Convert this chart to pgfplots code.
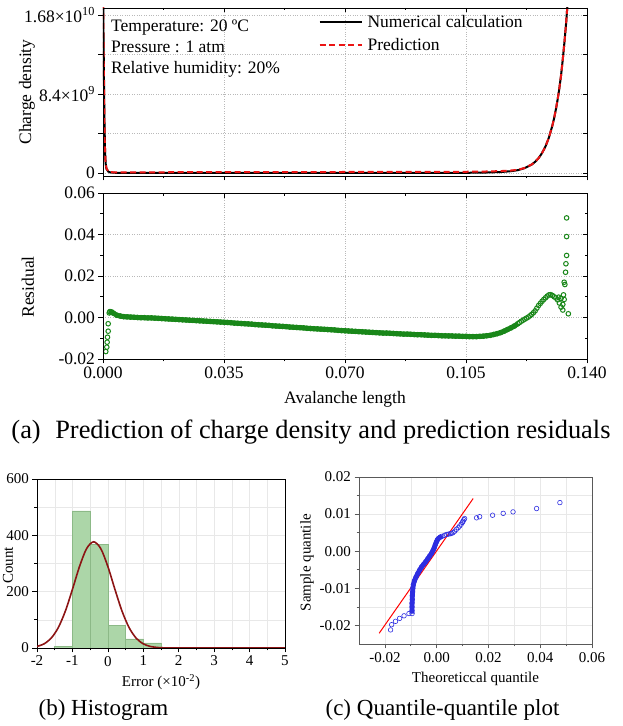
\documentclass[border=0pt]{standalone}
\usepackage{pgfplots}
\usepackage{pgfplotstable}
\pgfplotsset{compat=1.18}
\usepackage{fontspec}
\setmainfont{Liberation Serif}
\definecolor{resgreen}{RGB}{25,135,25}
\definecolor{qqblue}{RGB}{45,45,225}
\definecolor{histfill}{RGB}{172,214,168}
\definecolor{histedge}{RGB}{140,185,135}
\definecolor{curvered}{RGB}{140,20,20}
\definecolor{predred}{RGB}{235,20,20}
\newcommand{\fA}{\fontsize{17.5}{20}\selectfont}
\newcommand{\fB}{\fontsize{15}{18}\selectfont}
\newcommand{\fC}{\fontsize{15}{18}\selectfont}
\newcommand{\fCap}{\fontsize{26.4}{28}\selectfont}
\newcommand{\fCapb}{\fontsize{23}{26}\selectfont}

\pgfplotsset{
  base/.style={scale only axis, anchor=south west,
    /pgf/number format/assume math mode=true,
    axis line style={line width=0.8pt},
    major tick length=4.5pt, minor tick length=2.5pt,
    every tick/.style={black, line width=0.7pt}},
  mainleft/.style={xtick pos=left, ytick pos=left, tick align=outside,
    grid=major, grid style={gray!55, dotted, line width=0.6pt},
    tick label style={font=\fA}, label style={font=\fA}},
  mirror/.style={xtick pos=right, ytick pos=right, tick align=inside,
    xticklabels={}, yticklabels={}},
}

\pgfplotstableread[row sep=\\]{
x y\\
0 2.0e10\\
0.0002 1.3e10\\
0.0004 6.0e9\\
0.0006 2.2e9\\
0.0008 9.0e8\\
0.001 4.5e8\\
0.0015 1.6e8\\
0.002 7.0e7\\
0.003 3.0e7\\
0.005 1.0e7\\
0.01 5e6\\
0.02 3e6\\
0.04 2e6\\
0.06 2e6\\
0.08 3e6\\
0.09 5e6\\
0.1 1e7\\
0.105 2e7\\
0.11 4e7\\
0.115 1.0e8\\
0.118 1.9e8\\
0.12 3.0e8\\
0.122 5.2e8\\
0.124 8.9e8\\
0.125 1.19e9\\
0.126 1.58e9\\
0.127 2.12e9\\
0.128 2.83e9\\
0.129 3.78e9\\
0.13 5.06e9\\
0.1305 5.85e9\\
0.131 6.76e9\\
0.1315 7.8e9\\
0.132 9.0e9\\
0.1325 1.04e10\\
0.133 1.21e10\\
0.1335 1.40e10\\
0.134 1.61e10\\
0.1345 1.87e10\\
0.135 2.15e10\\
}\numcalc

\pgfplotstableread[row sep=\\]{
x y\\
0 2.0e10\\
0.0001 1.6e10\\
0.0003 8.5e9\\
0.0005 3.5e9\\
0.0007 1.3e9\\
0.001 4.8e8\\
0.0015 2.0e8\\
0.002 1.1e8\\
0.003 7.0e7\\
0.005 5.5e7\\
0.01 6e7\\
0.02 8e7\\
0.04 9e7\\
0.06 1.0e8\\
0.08 1.1e8\\
0.09 1.1e8\\
0.1 1.2e8\\
0.105 1.3e8\\
0.11 1.5e8\\
0.115 2.0e8\\
0.118 2.6e8\\
0.12 3.4e8\\
0.122 5.4e8\\
0.124 9.0e8\\
0.125 1.19e9\\
0.126 1.58e9\\
0.127 2.12e9\\
0.128 2.83e9\\
0.129 3.78e9\\
0.13 5.06e9\\
0.1305 5.85e9\\
0.131 6.76e9\\
0.1315 7.8e9\\
0.132 9.0e9\\
0.1325 1.04e10\\
0.133 1.21e10\\
0.1335 1.40e10\\
0.134 1.61e10\\
0.1345 1.87e10\\
0.135 2.15e10\\
}\predict

\pgfplotstableread[row sep=\\]{
x y\\
0.002 0.0028\\
0.003 0.0021\\
0.004 0.0011\\
0.005 0.0007\\
0.006 0.0004\\
0.007 0.0003\\
0.008 0.0002\\
0.009 0.0001\\
0.010 0.0000\\
0.011 -0.0001\\
0.012 -0.0001\\
0.013 -0.0002\\
0.014 -0.0002\\
0.015 -0.0003\\
0.016 -0.0004\\
0.017 -0.0005\\
0.018 -0.0006\\
0.019 -0.0007\\
0.020 -0.0008\\
0.021 -0.0009\\
0.022 -0.0010\\
0.023 -0.0011\\
0.024 -0.0012\\
0.025 -0.0013\\
0.026 -0.0014\\
0.027 -0.0015\\
0.028 -0.0016\\
0.029 -0.0017\\
0.030 -0.0018\\
0.031 -0.0019\\
0.032 -0.0020\\
0.033 -0.0021\\
0.034 -0.0022\\
0.035 -0.0023\\
0.036 -0.0024\\
0.037 -0.0025\\
0.038 -0.0027\\
0.039 -0.0028\\
0.040 -0.0029\\
0.041 -0.0030\\
0.042 -0.0031\\
0.043 -0.0032\\
0.044 -0.0034\\
0.045 -0.0035\\
0.046 -0.0036\\
0.047 -0.0037\\
0.048 -0.0038\\
0.049 -0.0040\\
0.050 -0.0041\\
0.051 -0.0042\\
0.052 -0.0043\\
0.053 -0.0044\\
0.054 -0.0046\\
0.055 -0.0047\\
0.056 -0.0048\\
0.057 -0.0049\\
0.058 -0.0050\\
0.059 -0.0052\\
0.060 -0.0053\\
0.061 -0.0054\\
0.062 -0.0055\\
0.063 -0.0056\\
0.064 -0.0057\\
0.065 -0.0058\\
0.066 -0.0059\\
0.067 -0.0060\\
0.068 -0.0062\\
0.069 -0.0063\\
0.070 -0.0064\\
0.071 -0.0065\\
0.072 -0.0066\\
0.073 -0.0067\\
0.074 -0.0068\\
0.075 -0.0069\\
0.076 -0.0070\\
0.077 -0.0071\\
0.078 -0.0072\\
0.079 -0.0073\\
0.080 -0.0074\\
0.081 -0.0075\\
0.082 -0.0075\\
0.083 -0.0076\\
0.084 -0.0077\\
0.085 -0.0078\\
0.086 -0.0079\\
0.087 -0.0080\\
0.088 -0.0080\\
0.089 -0.0081\\
0.090 -0.0082\\
0.091 -0.0083\\
0.092 -0.0083\\
0.093 -0.0084\\
0.094 -0.0085\\
0.095 -0.0086\\
0.096 -0.0086\\
0.097 -0.0087\\
0.098 -0.0088\\
0.099 -0.0088\\
0.100 -0.0089\\
0.101 -0.0089\\
0.102 -0.0090\\
0.103 -0.0090\\
0.104 -0.0091\\
0.105 -0.0091\\
0.106 -0.0092\\
0.107 -0.0092\\
0.108 -0.0092\\
0.109 -0.0091\\
0.110 -0.0090\\
0.111 -0.0088\\
0.112 -0.0086\\
0.113 -0.0082\\
0.114 -0.0078\\
0.115 -0.0073\\
0.116 -0.0066\\
0.117 -0.0058\\
0.118 -0.0050\\
0.119 -0.0041\\
0.120 -0.0030\\
}\resdense

\pgfplotstableread[row sep=\\]{
x y\\
-0.0095 -0.0168\\
-0.0095 -0.0160\\
-0.0095 -0.0150\\
-0.0095 -0.0140\\
-0.0094 -0.0130\\
-0.0094 -0.0120\\
-0.0093 -0.0110\\
-0.0092 -0.0100\\
-0.0090 -0.0090\\
-0.0086 -0.0080\\
-0.0080 -0.0070\\
-0.0073 -0.0060\\
-0.0065 -0.0050\\
-0.0058 -0.0042\\
-0.0050 -0.0035\\
-0.0042 -0.0028\\
-0.0034 -0.0020\\
-0.0027 -0.0013\\
-0.0020 -0.0006\\
-0.0014 0.0002\\
-0.0009 0.0010\\
-0.0005 0.0018\\
-0.0001 0.0025\\
0.0003 0.0031\\
0.0008 0.0035\\
0.0014 0.0038\\
0.0020 0.0040\\
}\qqdense

\begin{document}
\begin{tikzpicture}[x=1pt,y=1pt]
\useasboundingbox (0,0) rectangle (623,726);

% ---------- top panel: charge density ----------
\begin{axis}[base, mainleft, at={(103pt,550pt)}, width=484pt, height=168pt,
  xmin=0, xmax=0.14, ymin=-0.32e9, ymax=1.754e10,
  xtick={0,0.035,0.07,0.105,0.14}, xticklabels={}, minor x tick num=1,
  ytick={0,4.2e9,8.4e9,1.26e10,1.68e10},
  yticklabels={0,,8.4×10\textsuperscript{9},,1.68×10\textsuperscript{10}},
  scaled y ticks=false,
  ylabel={Charge density},
  ylabel style={at={(axis description cs:-0.157,0.5)}, anchor=center},
  legend style={at={(axis description cs:0.443,0.975)}, anchor=north west,
    draw=none, fill=none, font=\fA, inner sep=1pt, row sep=5pt,
    /tikz/every odd column/.append style={column sep=3pt}},
  legend cell align=left,
  legend image code/.code={\draw[#1] (0pt,0pt) -- (42pt,0pt);},
  clip=true]
\addplot[black, line width=2pt] table[x=x,y=y] {\numcalc};
\addlegendentry{Numerical calculation}
\addplot[predred, line width=2pt, dash pattern=on 6pt off 3.5pt] table[x=x,y=y] {\predict};
\addlegendentry{Prediction}
\node[anchor=north west, align=left, inner sep=0pt, font=\fontsize{17.5}{21.3}\selectfont]
  at (axis description cs:0.0165,0.932)
  {Temperature: 20 ºC\\Pressure : 1 atm\\Relative humidity: 20\%};
\end{axis}
\begin{axis}[base, mirror, at={(103pt,550pt)}, width=484pt, height=168pt,
  xmin=0, xmax=0.14, ymin=-0.32e9, ymax=1.754e10,
  xtick={0,0.035,0.07,0.105,0.14}, minor x tick num=1,
  ytick={0,4.2e9,8.4e9,1.26e10,1.68e10}, scaled y ticks=false]
\addplot[draw=none] coordinates {(0.05,0)};
\end{axis}

% ---------- residual panel ----------
\begin{axis}[base, mainleft, at={(103pt,367pt)}, width=484pt, height=166pt,
  xmin=0, xmax=0.14, ymin=-0.02, ymax=0.06,
  xtick={0,0.035,0.07,0.105,0.14}, minor x tick num=1,
  ytick={-0.02,0,0.02,0.04,0.06}, minor y tick num=1,
  xticklabel style={/pgf/number format/.cd, fixed, zerofill, precision=3},
  yticklabel style={/pgf/number format/.cd, fixed, zerofill, precision=2},
  scaled x ticks=false, scaled y ticks=false,
  xlabel={Avalanche length}, ylabel={Residual},
  xlabel style={at={(axis description cs:0.5,-0.24)}, anchor=center},
  ylabel style={at={(axis description cs:-0.155,0.434)}, anchor=center}]
\addplot[resgreen, line width=5pt] table[x=x,y=y] {\resdense};
\addplot[resgreen, only marks, mark=o, mark size=2.3pt, mark options={line width=1pt}] table[x=x,y=y] {\resdense};
\addplot[resgreen, only marks, mark=o, mark size=2.3pt, mark options={line width=1pt}] coordinates {
(0.0008,-0.0164) (0.0011,-0.0143) (0.0012,-0.0119) (0.0013,-0.0095) (0.0015,-0.0066) (0.0015,-0.0030)
(0.0018,0.0022) (0.0020,0.0028) (0.0025,0.0027)
(0.1205,-0.0024) (0.1210,-0.0018) (0.1215,-0.0013) (0.1220,-0.0008) (0.1225,-0.0003)
(0.1230,0.0002) (0.1235,0.0008) (0.1240,0.0015) (0.1245,0.0023) (0.1250,0.0032)
(0.1255,0.0045) (0.1260,0.0058) (0.1265,0.0068) (0.1270,0.0078) (0.1275,0.0087)
(0.1280,0.0095) (0.1285,0.0103) (0.1290,0.0109) (0.1295,0.0110) (0.1300,0.0106)
(0.1305,0.0100) (0.1310,0.0094) (0.1315,0.0085) (0.1318,0.0098) (0.1320,0.0070)
(0.1325,0.0092) (0.1325,0.0050) (0.1330,0.0036) (0.1330,0.0063)
(0.1341,0.0480) (0.1341,0.0390) (0.1341,0.0299) (0.1339,0.0259) (0.1338,0.0218)
(0.1334,0.0170) (0.1336,0.0159) (0.1332,0.0109) (0.1334,0.0087) (0.1346,0.0018)
};
\end{axis}
\begin{axis}[base, mirror, at={(103pt,367pt)}, width=484pt, height=166pt,
  xmin=0, xmax=0.14, ymin=-0.02, ymax=0.06,
  xtick={0,0.035,0.07,0.105,0.14}, minor x tick num=1,
  ytick={-0.02,0,0.02,0.04,0.06}, minor y tick num=1,
  scaled x ticks=false, scaled y ticks=false]
\addplot[draw=none] coordinates {(0.05,0)};
\end{axis}

\node[font=\fCap] at (311,294) {(a)\hspace{0.55em}Prediction of charge density and prediction residuals};

% ---------- histogram ----------
\begin{axis}[base, at={(37pt,78pt)}, width=248pt, height=169pt,
  xmin=-2, xmax=5, ymin=0, ymax=600,
  xtick={-2,-1,0,1,2,3,4,5}, ytick={0,200,400,600},
  minor x tick num=1, minor y tick num=1,
  xtick pos=left, ytick pos=left, tick align=outside,
  grid=both, grid style={gray!18, line width=0.4pt},
  minor grid style={gray!18, line width=0.4pt},
  tick label style={font=\fB}, label style={font=\fC},
  xlabel={Error (×10\textsuperscript{-2})}, ylabel={Count},
  xlabel style={at={(axis description cs:0.5,-0.2)}, anchor=center},
  ylabel style={at={(axis description cs:-0.117,0.49)}, anchor=center}]
\addplot[ybar interval, fill=histfill, draw=histedge, line width=0.5pt] coordinates {
(-1.5,7) (-1,487) (-0.5,369) (0,79) (0.5,32) (1,18) (1.5,18)};
\addplot[curvered, line width=1.6pt, smooth] coordinates {
(-2,5.5) (-1.8,14.8) (-1.6,34.9) (-1.4,72.2) (-1.2,130.9) (-1.0,208) (-0.8,289.4)
(-0.6,352.9) (-0.4,377) (-0.2,352.9) (0,289.4) (0.2,208) (0.4,130.9) (0.6,72.2)
(0.8,34.9) (1.0,14.8) (1.2,5.5) (1.4,1.8) (1.6,0.5) (2,0) (3,0) (4,0) (5,0)};
\end{axis}
\node[font=\fCapb] at (103.5,16) {(b) Histogram};

% ---------- QQ plot ----------
\begin{axis}[base, at={(359pt,82pt)}, width=233pt, height=167pt,
  xmin=-0.03, xmax=0.06, ymin=-0.025, ymax=0.02,
  xtick={-0.02,0,0.02,0.04,0.06}, ytick={-0.02,-0.01,0,0.01,0.02},
  minor x tick num=1, minor y tick num=1,
  xtick pos=left, ytick pos=left, tick align=outside,
  axis line style={black!65, line width=0.8pt},
  every tick/.style={black!65, line width=0.7pt},
  grid=both, grid style={gray!18, line width=0.4pt},
  minor grid style={gray!18, line width=0.4pt},
  xticklabel style={/pgf/number format/.cd, fixed, zerofill, precision=2},
  yticklabel style={/pgf/number format/.cd, fixed, zerofill, precision=2},
  scaled x ticks=false, scaled y ticks=false,
  tick label style={font=\fC}, label style={font=\fC},
  xlabel={Theoreticcal quantile}, ylabel={Sample quantile},
  xlabel style={at={(axis description cs:0.5,-0.21)}, anchor=center},
  ylabel style={at={(axis description cs:-0.223,0.487)}, anchor=center}]
\addplot[red, line width=1pt] coordinates {(-0.0222,-0.0221) (0.0141,0.0142)};
\addplot[qqblue, line width=4.8pt] table[x=x,y=y] {\qqdense};
\addplot[qqblue, only marks, mark=o, mark size=2.3pt, mark options={line width=0.6pt}] table[x=x,y=y] {\qqdense};
\addplot[qqblue, only marks, mark=o, mark size=2.3pt, mark options={line width=0.6pt}] coordinates {
(-0.0178,-0.0212) (-0.0174,-0.0198) (-0.0159,-0.0189) (-0.0143,-0.0181) (-0.0126,-0.0174) (-0.0107,-0.0168)
(0.0030,0.0043) (0.0038,0.0045) (0.0045,0.0046) (0.0052,0.0047) (0.0057,0.0048) (0.0063,0.0050)
(0.0070,0.0054) (0.0076,0.0059) (0.0083,0.0063) (0.0089,0.0068) (0.0095,0.0073) (0.0100,0.0078)
(0.0102,0.0081) (0.0105,0.0085) (0.0108,0.0088)
(0.0154,0.0090) (0.0166,0.0093) (0.0216,0.0097) (0.0257,0.0102) (0.0295,0.0106) (0.0386,0.0115) (0.0476,0.0131)};
\end{axis}
\node[font=\fCapb] at (442.5,16) {(c) Quantile-quantile plot};
\end{tikzpicture}
\end{document}
